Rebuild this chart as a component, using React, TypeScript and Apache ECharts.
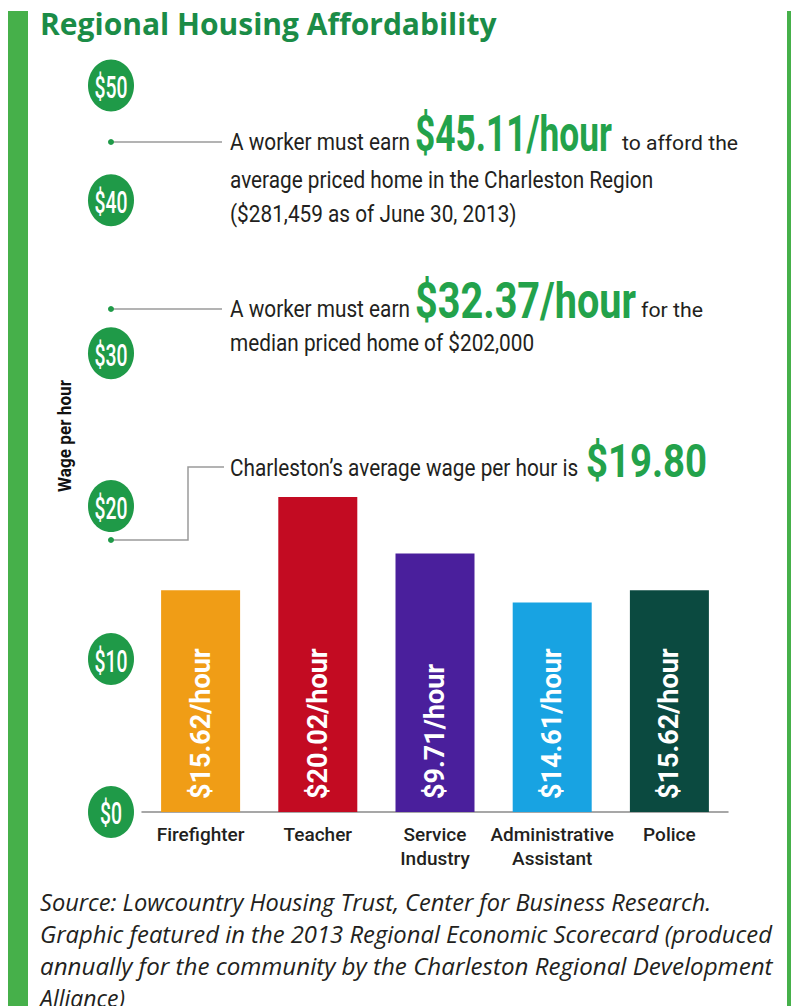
import React, { useEffect, useRef } from "react";
import * as echarts from "echarts";

// ---------- data ----------
const categories = ["Firefighter", "Teacher", "Service\nIndustry", "Administrative\nAssistant", "Police"];
// bar heights as drawn on the graphic's $ scale
const barHeights = [14.5, 20.6, 16.9, 13.7, 14.5];
const barLabels = ["$15.62/hour", "$20.02/hour", "$9.71/hour", "$14.61/hour", "$15.62/hour"];
const barColors = ["#f09d16", "#c30b22", "#4a1f9c", "#18a3e2", "#0b4a40"];
const tickValues = [0, 10, 20, 30, 40, 50];
const tickLabels = ["$0", "$10", "$20", "$30", "$40", "$50"];
const yTop = 47.5; // the top badge ($50) sits at the top of the drawn scale

const titleText = "Regional Housing Affordability";
const axisName = "Wage per hour";
const sourceLines = [
  "Source: Lowcountry Housing Trust, Center for Business Research.",
  "Graphic featured in the 2013 Regional Economic Scorecard (produced",
  "annually for the community by the Charleston Regional Development",
  "Alliance)",
];

const GREEN = "#1f9a48";
const BIG_GREEN = "#23a24b";
const INK = "#231f20";
const LINE = "#9a9a9a";

export default function App() {
  const ref = useRef<HTMLDivElement>(null);

  useEffect(() => {
    const el = ref.current!;
    const chart = echarts.init(el, null, { renderer: "svg" });
    const ctx = document.createElement("canvas").getContext("2d")!;

    const measure = (text: string, size: number, weight: string, family: string, fstyle: string) => {
      ctx.font = `${fstyle} ${weight} ${size}px ${family}`;
      return ctx.measureText(text).width;
    };

    const txt = (
      text: string,
      x: number,
      baseline: number,
      size: number,
      o: { weight?: string; color?: string; family?: string; italic?: boolean; asc?: number; width?: number; scale?: number } = {}
    ) => {
      const weight = o.weight ?? "normal";
      const family = o.family ?? "Roboto";
      const fstyle = o.italic ? "italic" : "normal";
      const w = measure(text, size, weight, family, fstyle);
      const sx = o.width ? o.width / w : o.scale ?? 1;
      return {
        type: "text",
        x,
        y: baseline - (o.asc ?? 0.342) * size,
        scaleX: sx,
        silent: true,
        style: {
          text,
          fill: o.color ?? INK,
          fontSize: size,
          fontWeight: weight,
          fontFamily: family,
          fontStyle: fstyle,
          align: "left",
          verticalAlign: "middle",
        },
      };
    };

    chart.setOption({
      animation: false,
      backgroundColor: "#ffffff",
      title: {
        text: titleText,
        left: 40,
        top: 8,
        padding: 0,
        textStyle: { color: "#1b8c47", fontSize: 30, fontWeight: "bold", fontFamily: "Open Sans" },
      },
      grid: { left: 142, right: 63, top: 85.5, bottom: 194 },
      xAxis: {
        type: "category",
        data: categories,
        axisLine: { lineStyle: { color: "#8a8a8a", width: 1.5 } },
        axisTick: { show: false },
        axisLabel: {
          color: INK,
          fontFamily: "Roboto",
          fontWeight: 500,
          fontSize: 19,
          lineHeight: 24,
          margin: 10,
          interval: 0,
        },
      },
      yAxis: {
        type: "value",
        min: 0,
        max: yTop,
        show: false,
        splitLine: { show: false },
      },
      series: [
        {
          type: "bar",
          barWidth: 79,
          data: barHeights.map((v, i) => ({ value: v, itemStyle: { color: barColors[i] } })),
          label: {
            show: true,
            position: "insideBottom",
            rotate: 90,
            align: "left",
            verticalAlign: "middle",
            distance: 13,
            formatter: (p: any) => barLabels[p.dataIndex],
            color: "#ffffff",
            fontFamily: "Roboto",
            fontWeight: "bold",
            fontSize: 27,
          },
        },
      ],
    });

    const g: any[] = [];
    // frame
    g.push({ type: "rect", shape: { x: 8, y: 11, width: 20, height: 1000 }, style: { fill: "#46b04a" }, silent: true });
    g.push({ type: "rect", shape: { x: 787, y: 11, width: 4, height: 1000 }, style: { fill: "#46b04a" }, silent: true });

    // y-axis badges placed through the value axis
    const badgeX = 111;
    const badgeScale = 33 / measure("$40", 32, "500", "Roboto", "normal");
    tickValues.forEach((v, i) => {
      const y = chart.convertToPixel({ yAxisIndex: 0 }, Math.min(v, yTop)) as number;
      g.push({ type: "ellipse", shape: { cx: badgeX, cy: y, rx: 23, ry: 26 }, style: { fill: GREEN }, silent: true });
      g.push({
        type: "text",
        x: badgeX,
        y: y + 1,
        scaleX: badgeScale,
        silent: true,
        style: {
          text: tickLabels[i],
          fill: "#ffffff",
          fontSize: 32,
          fontWeight: 500,
          fontFamily: "Roboto",
          align: "center",
          verticalAlign: "middle",
        },
      });
    });

    // axis name
    g.push({
      type: "text",
      x: 64,
      y: 436,
      rotation: Math.PI / 2,
      scaleX: 112 / measure(axisName, 19, "bold", "Roboto", "normal"),
      silent: true,
      style: { text: axisName, fill: "#111", fontSize: 19, fontWeight: "bold", fontFamily: "Roboto", align: "center", verticalAlign: "middle" },
    });

    // annotation connectors
    const dot = (y: number) => ({ type: "circle", shape: { cx: 111, cy: y, r: 3 }, style: { fill: GREEN }, silent: true });
    g.push({ type: "line", shape: { x1: 111, y1: 142, x2: 222, y2: 142 }, style: { stroke: LINE, lineWidth: 1.5 }, silent: true });
    g.push(dot(142));
    g.push({ type: "line", shape: { x1: 111, y1: 309, x2: 222, y2: 309 }, style: { stroke: LINE, lineWidth: 1.5 }, silent: true });
    g.push(dot(309));
    g.push({
      type: "polyline",
      shape: { points: [[224, 467], [188, 467], [188, 540], [111, 540]] },
      style: { stroke: LINE, lineWidth: 1.5, fill: "none" },
      silent: true,
    });
    g.push(dot(540));

    // annotation texts (body text uses one shared horizontal compression)
    const bodyScale = 180 / measure("A worker must earn", 24, "normal", "Roboto", "normal");
    g.push(txt("A worker must earn", 230, 150, 24, { scale: bodyScale }));
    g.push(txt("$45.11/hour", 415, 151, 50, { weight: "bold", color: BIG_GREEN, width: 197 }));
    g.push(txt("to afford the", 622, 150, 21, { width: 116 }));
    g.push(txt("average priced home in the Charleston Region", 230, 188, 24, { scale: bodyScale }));
    g.push(txt("($281,459 as of June 30, 2013)", 230, 222, 24, { scale: bodyScale }));

    g.push(txt("A worker must earn", 230, 317, 24, { scale: bodyScale }));
    g.push(txt("$32.37/hour", 415, 318, 50, { weight: "bold", color: BIG_GREEN, width: 221 }));
    g.push(txt("for the", 641, 317, 21, { width: 62 }));
    g.push(txt("median priced home of $202,000", 230, 351, 24, { scale: bodyScale }));

    g.push(txt("Charleston\u2019s average wage per hour is", 230, 476, 24, { scale: bodyScale }));
    g.push(txt("$19.80", 586, 477, 46, { weight: "bold", color: BIG_GREEN, width: 121 }));

    // source note
    const srcW = [672, 733, 733, 85];
    sourceLines.forEach((s, i) => {
      g.push(txt(s, 40, 911 + i * 32, 23, { family: "Open Sans", italic: true, asc: 0.388, color: "#231f20", width: srcW[i] }));
    });

    chart.setOption({ graphic: g });

    return () => chart.dispose();
  }, []);

  return (
    <div
      ref={ref}
      style={{ position: "fixed", left: 0, top: 0, width: 791, height: 1006, background: "#fff" }}
    />
  );
}
